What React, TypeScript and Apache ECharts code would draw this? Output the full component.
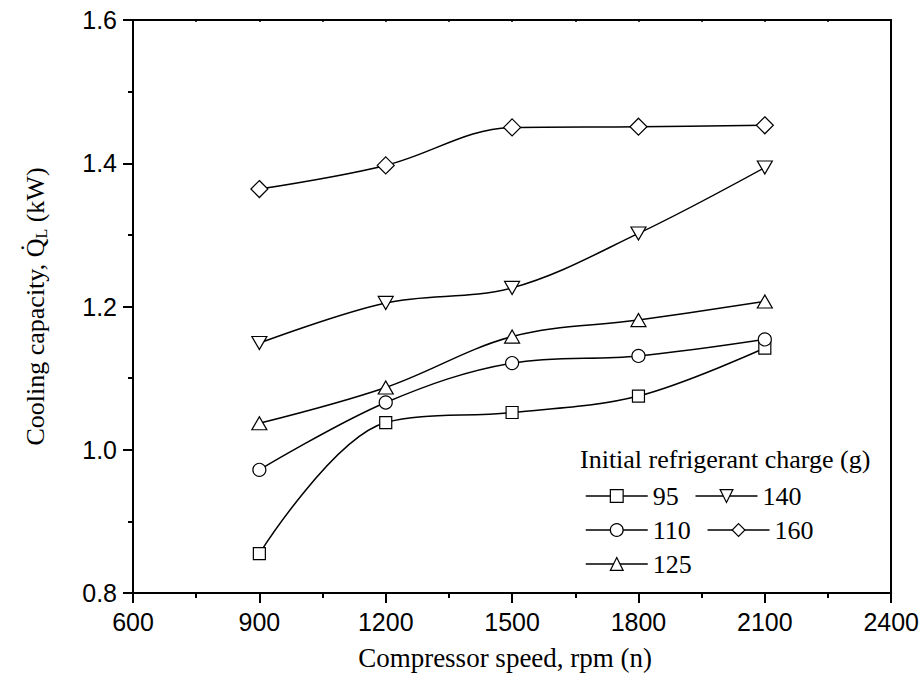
import React, { useEffect, useRef } from "react";
import * as echarts from "echarts";

const speeds = [900, 1200, 1500, 1800, 2100];
const charge95 = [0.855, 1.038, 1.052, 1.075, 1.142];
const charge110 = [0.972, 1.066, 1.121, 1.131, 1.154];
const charge125 = [1.037, 1.087, 1.158, 1.181, 1.207];
const charge140 = [1.149, 1.205, 1.226, 1.302, 1.394];
const charge160 = [1.364, 1.397, 1.45, 1.451, 1.453];
const legendRows = [["95", "140"], ["110", "160"], ["125"]];
const legendTitle = "Initial refrigerant charge (g)";

const triDown = "path://M0,0 L10,0 L5,9 Z";
const triUp = "path://M5,0 L10,9 L0,9 Z";

const SERIF = "Liberation Serif";
const SANS = "Liberation Sans";

export default function App() {
  const ref = useRef<HTMLDivElement>(null);
  useEffect(() => {
    if (!ref.current) return;
    const chart = echarts.init(ref.current, null, { renderer: "svg" });
    const mk = (name: string, vals: number[], symbol: string, size: any) => ({
      name,
      type: "line",
      data: speeds.map((s, i) => [s, vals[i]]),
      smooth: 0.35,
      symbol,
      symbolSize: size,
      showAllSymbol: true,
      lineStyle: { color: "#000", width: 1.5 },
      itemStyle: { color: "#fff", borderColor: "#000", borderWidth: 1.2 },
      z: 3,
    });
    const rowTops = [478, 512, 546];
    const legends = legendRows.map((row, i) => ({
      data: row,
      left: 580,
      top: rowTops[i],
      orient: "horizontal",
      itemWidth: 62,
      itemHeight: 16,
      itemGap: 16,
      textStyle: { fontFamily: SERIF, fontSize: 26, color: "#000" },
      itemStyle: { borderWidth: 1.2 },
      lineStyle: { width: 1.5 },
      selectedMode: false,
    }));
    chart.setOption({
      animation: false,
      grid: { left: 133, right: 30, top: 20, bottom: 95 },
      xAxis: [
        {
          type: "value",
          min: 600,
          max: 2400,
          interval: 300,
          position: "bottom",
          name: "Compressor speed, rpm (n)",
          nameLocation: "middle",
          nameGap: 51,
          nameTextStyle: { fontFamily: SERIF, fontSize: 27, color: "#000", padding: [0, 14, 0, 0] },
          axisLine: { show: true, lineStyle: { color: "#000", width: 2 } },
          axisTick: { show: true, length: 10, inside: false, lineStyle: { color: "#000", width: 2 } },
          minorTick: { show: true, splitNumber: 2, length: 5, lineStyle: { color: "#000", width: 2 } },
          axisLabel: {
            fontFamily: SANS,
            fontSize: 25,
            color: "#000",
            margin: 16,
            formatter: (v: number) => String(v),
          },
          splitLine: { show: false },
        },
        {
          type: "value",
          min: 600,
          max: 2400,
          interval: 300,
          position: "top",
          axisLine: { show: true, lineStyle: { color: "#000", width: 2 } },
          axisTick: { show: true, length: 2, inside: true, lineStyle: { color: "#000", width: 1.5 } },
          minorTick: { show: true, splitNumber: 2, length: 2, lineStyle: { color: "#000", width: 1.5 } },
          axisLabel: { show: false },
          splitLine: { show: false },
        },
      ],
      yAxis: [
        {
          type: "value",
          min: 0.8,
          max: 1.6,
          interval: 0.2,
          position: "left",
          name: "Cooling capacity, {q|Q\u0307}{sub|L} (kW)",
          nameLocation: "middle",
          nameGap: 84,
          nameTextStyle: {
            fontFamily: SERIF,
            fontSize: 26,
            color: "#000",
            rich: {
              q: { fontFamily: SERIF, fontSize: 26, color: "#000" },
              sub: { fontFamily: SERIF, fontSize: 16, color: "#000", padding: [12, 0, 0, 0] },
            },
          },
          axisLine: { show: true, lineStyle: { color: "#000", width: 2 } },
          axisTick: { show: true, length: 10, inside: false, lineStyle: { color: "#000", width: 2 } },
          minorTick: { show: true, splitNumber: 2, length: 5, lineStyle: { color: "#000", width: 2 } },
          axisLabel: {
            fontFamily: SANS,
            fontSize: 25,
            color: "#000",
            margin: 16,
            formatter: (v: number) => v.toFixed(1),
          },
          splitLine: { show: false },
        },
        {
          type: "value",
          min: 0.8,
          max: 1.6,
          interval: 0.2,
          position: "right",
          axisLine: { show: true, lineStyle: { color: "#000", width: 2 } },
          axisTick: { show: false },
          axisLabel: { show: false },
          splitLine: { show: false },
        },
      ],
      legend: legends,
      graphic: [
        {
          type: "text",
          left: 580,
          top: 446,
          style: {
            text: legendTitle,
            fontFamily: SERIF,
            fontSize: 26,
            fill: "#000",
          },
        },
      ],
      series: [
        mk("95", charge95, "rect", 12),
        mk("110", charge110, "circle", 13),
        mk("125", charge125, triUp, [15, 13]),
        mk("140", charge140, triDown, [15, 13]),
        mk("160", charge160, "diamond", [17, 17]),
      ],
    });
    return () => chart.dispose();
  }, []);
  return <div ref={ref} style={{ width: 922, height: 688, position: "absolute", left: 0, top: 0, background: "#fff" }} />;
}
